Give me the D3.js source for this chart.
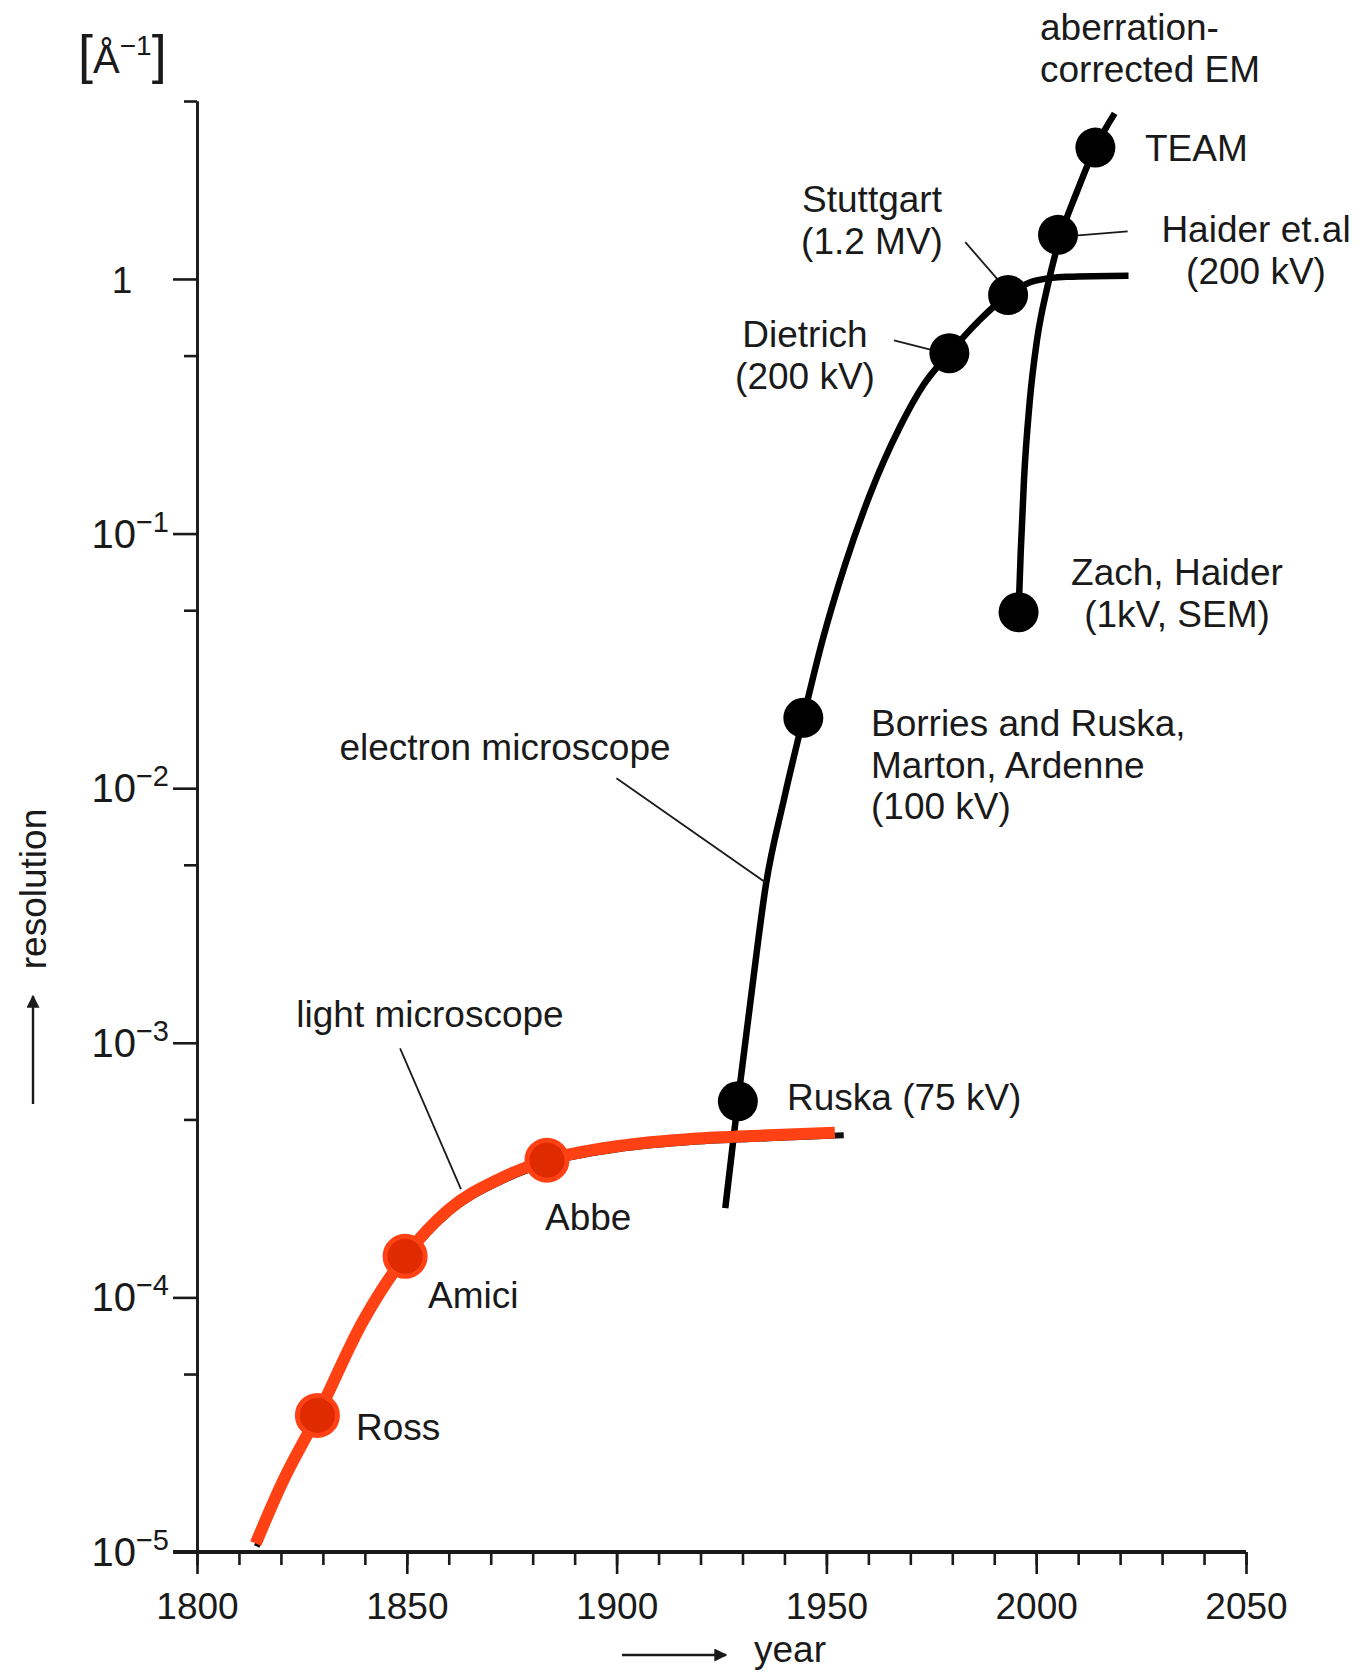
<!DOCTYPE html>
<html lang="en">
<head>
    <meta charset="UTF-8">
    <title>Resolution of microscopes over time</title>
    <script src="https://cdnjs.cloudflare.com/ajax/libs/d3/7.8.5/d3.min.js" charset="utf-8"></script>
    <style>
        body { margin: 0; background: #fff; }
        svg text {
            font-family: "Liberation Sans", Arial, Helvetica, sans-serif;
            font-size: 37px;
            fill: #1a1a1a;
        }
        .domain, .tick line { stroke: #1a1a1a; }
        .leader { stroke: #1a1a1a; stroke-width: 1.8px; fill: none; }
    </style>
</head>
<body>
<svg width="1359" height="1672"></svg>
<script>
    // light microscope curve
    var lightYears = [1814.0, 1820.3, 1828.7, 1839.4, 1849.6, 1859.8, 1872.5, 1883.4, 1900.5, 1918.3, 1936.1, 1953.9];
    var lightRes = [1.08e-5, 1.87e-5, 3.44e-5, 7.98e-5, 1.45e-4, 2.20e-4, 2.94e-4, 3.46e-4, 3.93e-4, 4.20e-4, 4.33e-4, 4.45e-4];

    // electron microscope curve
    var emYears = [1925.9, 1928.9, 1932.2, 1935.6, 1939.9, 1944.5, 1949.0, 1954.4, 1960.5, 1967.3, 1973.2, 1979.3, 1986.4, 1993.3, 1999.6, 2007.3, 2022.0];
    var emRes = [2.24e-4, 5.89e-4, 1.59e-3, 4.19e-3, 9.06e-3, 1.89e-2, 0.0377, 0.0751, 0.144, 0.258, 0.385, 0.511, 0.687, 0.865, 0.982, 1.02, 1.03];

    // aberration-corrected EM curve
    var acYears = [1995.8, 1996.3, 1997.1, 1998.4, 2000.2, 2002.7, 2005.2, 2009.8, 2014.1, 2018.7];
    var acRes = [0.0491, 0.0836, 0.164, 0.323, 0.577, 0.936, 1.37, 2.22, 3.28, 4.47];

    // milestones
    var lightNames = ["Ross", "Amici", "Abbe"];
    var lightPtYears = [1828.7, 1849.6, 1883.4];
    var lightPtRes = [3.44e-5, 1.45e-4, 3.46e-4];

    var emNames = ["Ruska", "Borries", "Dietrich", "Stuttgart", "Zach", "Haider", "TEAM"];
    var emPtYears = [1928.9, 1944.5, 1979.3, 1993.3, 1995.8, 2005.2, 2014.1];
    var emPtRes = [5.89e-4, 1.89e-2, 0.511, 0.865, 0.0491, 1.49, 3.28];

    // axis ticks
    var xMajor = [1800, 1850, 1900, 1950, 2000, 2050];
    var xMinor = d3.range(1800, 2051, 10);
    var yMajor = [1, 1e-1, 1e-2, 1e-3, 1e-4, 1e-5];
    var yMajorLabels = ["1", "−1", "−2", "−3", "−4", "−5"];
    var yMinor = [5, 0.5, 0.05, 5e-3, 5e-4, 5e-5];

    var svg = d3.select("svg");

    var x = d3.scaleLinear().domain([1800, 2050]).range([197, 1246]);
    var y = d3.scaleLog().domain([1e-5, 5]).range([1552, 101]);

    // y axis
    var yAxisG = svg.append("g").attr("transform", "translate(197,0)");
    yAxisG.call(d3.axisLeft(y).tickValues(yMajor).tickSize(24).tickSizeOuter(0).tickFormat(""));
    yAxisG.append("g").call(d3.axisLeft(y).tickValues(yMinor).tickSize(13).tickSizeOuter(0).tickFormat(""));
    yAxisG.selectAll("path.domain").attr("stroke-width", 2.6);
    yAxisG.selectAll(".tick line").attr("stroke-width", 2.6);

    // y tick labels
    var yl = svg.append("g").selectAll("text")
            .data(yMajor)
            .enter()
            .append("text")
            .attr("y", function (d) { return y(d) + 14; });
    yl.each(function (d, i) {
        var t = d3.select(this);
        if (i === 0) {
            t.attr("x", 122).attr("text-anchor", "middle").text("1");
        } else {
            t.attr("x", 169).attr("text-anchor", "end");
            t.append("tspan").style("font-size", "40px").text("10");
            t.append("tspan").attr("dy", -16).style("font-size", "29px").text(yMajorLabels[i]);
        }
    });

    // x axis
    var xAxisG = svg.append("g").attr("transform", "translate(0,1552)");
    xAxisG.call(d3.axisBottom(x).tickValues(xMajor).tickSize(22).tickSizeOuter(0).tickFormat(d3.format("d")));
    xAxisG.append("g").call(d3.axisBottom(x).tickValues(xMinor).tickSize(13).tickSizeOuter(0).tickFormat(""));
    xAxisG.selectAll("path.domain").attr("stroke-width", 4);
    xAxisG.selectAll(".tick line").attr("stroke-width", 2.6);
    xAxisG.selectAll(".tick text")
            .attr("y", 67)
            .attr("dy", 0)
            .style("font-size", "37px")
            .style("font-family", "'Liberation Sans', Arial, sans-serif")
            .attr("fill", "#1a1a1a");
    xAxisG.selectAll("path.domain").attr("d", "M173,0H1246");

    // axis titles
    svg.append("defs").append("marker")
            .attr("id", "arr")
            .attr("viewBox", "0 0 10 10")
            .attr("refX", 9).attr("refY", 5)
            .attr("markerWidth", 13).attr("markerHeight", 13)
            .attr("markerUnits", "userSpaceOnUse")
            .attr("orient", "auto")
            .append("path").attr("d", "M0,0L10,5L0,10Z").attr("fill", "#1a1a1a");

    svg.append("line").attr("x1", 622).attr("y1", 1655).attr("x2", 726).attr("y2", 1655)
            .attr("stroke", "#1a1a1a").attr("stroke-width", 2.4)
            .attr("marker-end", "url(#arr)");
    svg.append("text").attr("x", 754).attr("y", 1662).text("year");

    svg.append("line").attr("x1", 33).attr("y1", 1104).attr("x2", 33).attr("y2", 996)
            .attr("stroke", "#1a1a1a").attr("stroke-width", 2.4)
            .attr("marker-end", "url(#arr)");
    svg.append("text")
            .attr("transform", "translate(46,889) rotate(-90)")
            .attr("text-anchor", "middle")
            .text("resolution");

    // unit label
    var unit = svg.append("text").attr("x", 78).attr("y", 73);
    unit.append("tspan").style("font-size", "54px").style("font-weight", "300").text("[");
    unit.append("tspan").style("font-size", "40px").text("Å");
    unit.append("tspan").attr("dy", -18).style("font-size", "28px").text("−1");
    unit.append("tspan").attr("dy", 18).style("font-size", "54px").text("]");

    var line = d3.line()
            .x(function (d) { return x(d[0]); })
            .y(function (d) { return y(d[1]); })
            .curve(d3.curveMonotoneX);

    var lightData = d3.zip(lightYears, lightRes);
    var emData = d3.zip(emYears, emRes);
    var acData = d3.zip(acYears, acRes);

    // black curves
    svg.append("path").datum(lightData)
            .attr("d", line).attr("transform", "translate(1,3)")
            .attr("fill", "none").attr("stroke", "#111").attr("stroke-width", 6);
    svg.append("path").datum(emData)
            .attr("d", line)
            .attr("fill", "none").attr("stroke", "#000").attr("stroke-width", 6.5);
    svg.append("path").datum(acData)
            .attr("d", line)
            .attr("fill", "none").attr("stroke", "#000").attr("stroke-width", 6.5);

    // red light microscope curve on top
    var red = svg.append("path").datum(lightData)
            .attr("d", line)
            .attr("fill", "none").attr("stroke", "#ff4114").attr("stroke-width", 12)
            .attr("stroke-linecap", "butt");
    var len = red.node().getTotalLength();
    red.attr("stroke-dasharray", (len - 8) + "," + 100);

    // leader lines
    var leaders = [
        [[1899.97, 0.01094], [1935.6, 0.00425]],
        [[1848.4, 9.5e-4], [1862.9, 2.66e-4]],
        [[1966.1, 0.574], [1976.2, 0.521]],
        [[1983.1, 1.395], [1990.7, 1.0]],
        [[2009.3, 1.479], [2021.8, 1.538]]
    ];
    svg.append("g").selectAll("line")
            .data(leaders)
            .enter()
            .append("line")
            .attr("class", "leader")
            .attr("x1", function (d) { return x(d[0][0]); })
            .attr("y1", function (d) { return y(d[0][1]); })
            .attr("x2", function (d) { return x(d[1][0]); })
            .attr("y2", function (d) { return y(d[1][1]); });

    // dots
    svg.append("g").selectAll("circle")
            .data(d3.zip(emPtYears, emPtRes))
            .enter()
            .append("circle")
            .attr("cx", function (d) { return x(d[0]); })
            .attr("cy", function (d) { return y(d[1]); })
            .attr("r", 20)
            .attr("fill", "#000");

    svg.append("g").selectAll("circle")
            .data(d3.zip(lightPtYears, lightPtRes))
            .enter()
            .append("circle")
            .attr("cx", function (d) { return x(d[0]); })
            .attr("cy", function (d) { return y(d[1]); })
            .attr("r", 20)
            .attr("fill", "#e02a00")
            .attr("stroke", "#ff4114")
            .attr("stroke-width", 5);

    // text labels: [lines, x, y of first baseline, anchor]
    var labels = [
        [["Ross"], 356, 1440, "start"],
        [["Amici"], 428, 1308, "start"],
        [["Abbe"], 545, 1230, "start"],
        [["Ruska (75 kV)"], 787, 1110, "start"],
        [["Borries and Ruska,", "Marton, Ardenne", "(100 kV)"], 871, 736, "start"],
        [["Dietrich", "(200 kV)"], 805, 347, "middle"],
        [["Stuttgart", "(1.2 MV)"], 872, 212, "middle"],
        [["Haider et.al", "(200 kV)"], 1256, 242, "middle"],
        [["TEAM"], 1145, 161, "start"],
        [["aberration-", "corrected EM"], 1040, 40, "start"],
        [["Zach, Haider", "(1kV, SEM)"], 1177, 585, "middle"],
        [["electron microscope"], 505, 760, "middle"],
        [["light microscope"], 430, 1027, "middle"]
    ];
    var lg = svg.append("g").selectAll("text")
            .data(labels)
            .enter()
            .append("text")
            .attr("x", function (d) { return d[1]; })
            .attr("y", function (d) { return d[2]; })
            .attr("text-anchor", function (d) { return d[3]; });
    lg.each(function (d) {
        var t = d3.select(this);
        d[0].forEach(function (s, i) {
            t.append("tspan").attr("x", d[1]).attr("dy", i === 0 ? 0 : 41.5).text(s);
        });
    });
</script>
</body>
</html>
